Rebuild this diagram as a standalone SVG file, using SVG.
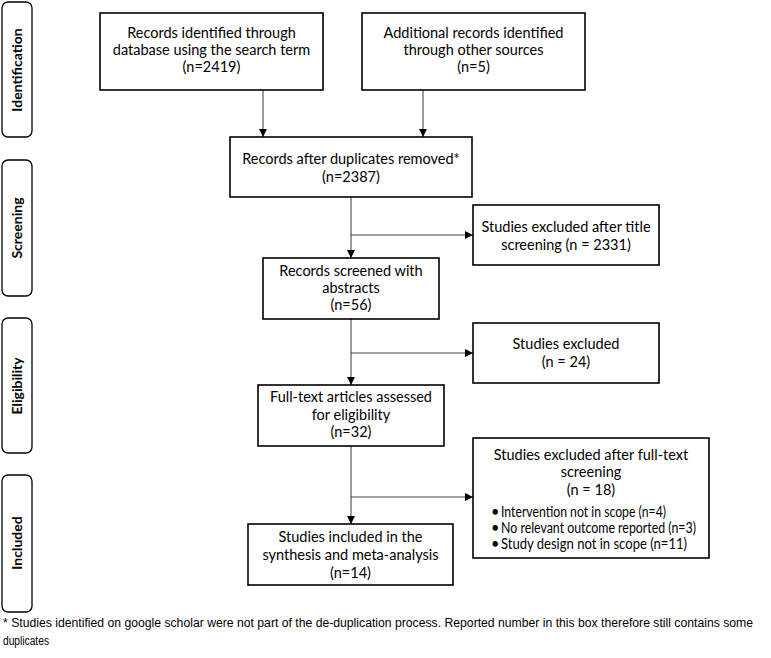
<svg xmlns="http://www.w3.org/2000/svg" width="771" height="658" viewBox="0 0 771 658">
<style>
.box{fill:#fff;stroke:#000;stroke-width:1.6}
.stage{fill:#fff;stroke:#000;stroke-width:1.3}
.t{font-family:Lato,"Liberation Sans",sans-serif;font-size:14.5px;fill:#000;text-anchor:middle}
.b{font-family:Lato,"Liberation Sans",sans-serif;font-size:14.5px;fill:#000}
.lab{font-family:Lato,"Liberation Sans",sans-serif;font-size:14px;font-weight:bold;fill:#000;text-anchor:middle}
.v{stroke:#7a7a7a;stroke-width:1.5;fill:none}
.h{stroke:#444;stroke-width:1;fill:none}
.fn{font-family:"Liberation Sans",Arial,sans-serif;font-size:12px;fill:#000}
</style>
<defs>
<marker id="ah" viewBox="0 0 10 10" refX="10" refY="5" markerWidth="8" markerHeight="8" markerUnits="userSpaceOnUse" orient="auto">
<path d="M0,0 L10,5 L0,10 z" fill="#000"/>
</marker>
</defs>
<rect width="771" height="658" fill="#fff"/>
<g id="stage-identification"><rect class="stage" x="2" y="2" width="30" height="135" rx="6"/><text class="lab" transform="translate(22,70) rotate(-90)">Identification</text></g>
<g id="stage-screening"><rect class="stage" x="2" y="160" width="30" height="136" rx="6"/><text class="lab" transform="translate(22,228) rotate(-90)">Screening</text></g>
<g id="stage-eligibility"><rect class="stage" x="2" y="318" width="30" height="135" rx="6"/><text class="lab" transform="translate(22,386) rotate(-90)">Eligibility</text></g>
<g id="stage-included"><rect class="stage" x="2" y="475" width="30" height="137" rx="6"/><text class="lab" transform="translate(22,543) rotate(-90)">Included</text></g>

<g id="connectors">
<line class="v" x1="263" y1="90" x2="263" y2="137" marker-end="url(#ah)"/>
<line class="v" x1="423" y1="90" x2="423" y2="137" marker-end="url(#ah)"/>
<line class="v" x1="351" y1="197" x2="351" y2="258" marker-end="url(#ah)"/>
<line class="h" x1="351" y1="235" x2="473" y2="235" marker-end="url(#ah)"/>
<line class="v" x1="351" y1="319" x2="351" y2="385" marker-end="url(#ah)"/>
<line class="h" x1="351" y1="353" x2="473" y2="353" marker-end="url(#ah)"/>
<line class="v" x1="351" y1="446" x2="351" y2="524" marker-end="url(#ah)"/>
<line class="h" x1="351" y1="497" x2="473" y2="497" marker-end="url(#ah)"/>
</g>

<g id="n1"><rect class="box" x="100" y="13" width="223" height="77"/>
<text class="t" x="211.5" y="38">Records identified through</text>
<text class="t" x="211.5" y="55">database using the search term</text>
<text class="t" x="211.5" y="72">(n=2419)</text></g>

<g id="n2"><rect class="box" x="362" y="13" width="223" height="77"/>
<text class="t" x="473.5" y="38">Additional records identified</text>
<text class="t" x="473.5" y="55">through other sources</text>
<text class="t" x="473.5" y="72">(n=5)</text></g>

<g id="n3"><rect class="box" x="230" y="137" width="242" height="60"/>
<text class="t" x="351" y="164">Records after duplicates removed*</text>
<text class="t" x="351" y="182">(n=2387)</text></g>

<g id="n4"><rect class="box" x="473" y="205" width="186" height="60"/>
<text class="t" x="566" y="232">Studies excluded after title</text>
<text class="t" x="566" y="250">screening (n = 2331)</text></g>

<g id="n5"><rect class="box" x="263" y="258" width="176" height="61"/>
<text class="t" x="351" y="276">Records screened with</text>
<text class="t" x="351" y="293">abstracts</text>
<text class="t" x="351" y="310">(n=56)</text></g>

<g id="n6"><rect class="box" x="473" y="323" width="186" height="60"/>
<text class="t" x="566" y="349">Studies excluded</text>
<text class="t" x="566" y="367">(n = 24)</text></g>

<g id="n7"><rect class="box" x="258" y="385" width="186" height="61"/>
<text class="t" x="351" y="402">Full-text articles assessed</text>
<text class="t" x="351" y="420">for eligibility</text>
<text class="t" x="351" y="437">(n=32)</text></g>

<g id="n8"><rect class="box" x="473" y="438" width="236" height="120"/>
<text class="t" x="591" y="460">Studies excluded after full-text</text>
<text class="t" x="591" y="477">screening</text>
<text class="t" x="591" y="495">(n = 18)</text>
<text class="b" x="491" y="517">•</text><text class="b" x="501" y="517" textLength="165" lengthAdjust="spacingAndGlyphs">Intervention not in scope (n=4)</text>
<text class="b" x="491" y="533">•</text><text class="b" x="501" y="533" textLength="195" lengthAdjust="spacingAndGlyphs">No relevant outcome reported (n=3)</text>
<text class="b" x="491" y="549">•</text><text class="b" x="501" y="549" textLength="186" lengthAdjust="spacingAndGlyphs">Study design not in scope (n=11)</text></g>

<g id="n9"><rect class="box" x="248" y="524" width="205" height="61"/>
<text class="t" x="350.5" y="542">Studies included in the</text>
<text class="t" x="350.5" y="560">synthesis and meta-analysis</text>
<text class="t" x="350.5" y="578">(n=14)</text></g>

<g id="footnote">
<text class="fn" x="3" y="627" textLength="750" lengthAdjust="spacingAndGlyphs">* Studies identified on google scholar were not part of the de-duplication process. Reported number in this box therefore still contains some</text>
<text class="fn" x="3" y="645" textLength="46" lengthAdjust="spacingAndGlyphs">duplicates</text>
</g>
</svg>
